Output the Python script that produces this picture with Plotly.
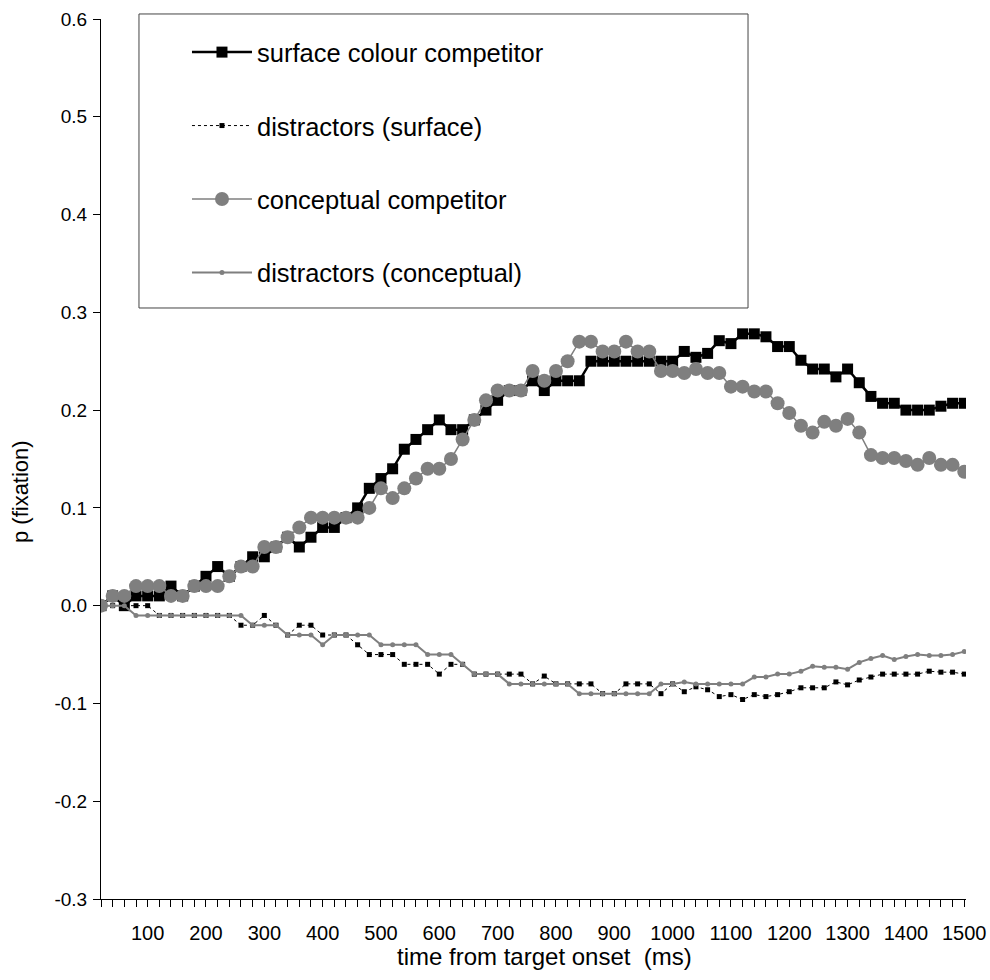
import plotly.graph_objects as go

# time bins (ms) - category positions
time_ms = [20, 40, 60, 80, 100, 120, 140, 160, 180, 200, 220, 240, 260, 280, 300,
           320, 340, 360, 380, 400, 420, 440, 460, 480, 500, 520, 540, 560, 580, 600,
           620, 640, 660, 680, 700, 720, 740, 760, 780, 800, 820, 840, 860, 880, 900,
           920, 940, 960, 980, 1000, 1020, 1040, 1060, 1080, 1100, 1120, 1140, 1160, 1180, 1200,
           1220, 1240, 1260, 1280, 1300, 1320, 1340, 1360, 1380, 1400, 1420, 1440, 1460, 1480, 1500]

surface_competitor = [
    0.00, 0.01, 0.00, 0.01, 0.01, 0.01, 0.02, 0.01, 0.02, 0.03,
    0.04, 0.03, 0.04, 0.05, 0.05, 0.06, 0.07, 0.06, 0.07, 0.08,
    0.08, 0.09, 0.10, 0.12, 0.13, 0.14, 0.16, 0.17, 0.18, 0.19,
    0.18, 0.18, 0.19, 0.20, 0.21, 0.22, 0.22, 0.23, 0.22, 0.23,
    0.23, 0.23, 0.25, 0.25, 0.25, 0.25, 0.25, 0.25, 0.25, 0.25,
    0.26, 0.254, 0.258, 0.271, 0.268, 0.278, 0.278, 0.275, 0.265, 0.265,
    0.251, 0.242, 0.242, 0.234, 0.242, 0.228, 0.214, 0.207, 0.207, 0.200,
    0.200, 0.200, 0.204, 0.207, 0.207]

distractors_surface = [
    0.00, 0.00, 0.00, 0.00, 0.00, -0.01, -0.01, -0.01, -0.01, -0.01,
    -0.01, -0.01, -0.02, -0.02, -0.01, -0.02, -0.03, -0.02, -0.02, -0.03,
    -0.03, -0.03, -0.04, -0.05, -0.05, -0.05, -0.06, -0.06, -0.06, -0.07,
    -0.06, -0.06, -0.07, -0.07, -0.07, -0.07, -0.07, -0.08, -0.072, -0.08,
    -0.08, -0.08, -0.08, -0.09, -0.09, -0.08, -0.08, -0.08, -0.09, -0.08,
    -0.088, -0.083, -0.086, -0.093, -0.091, -0.096, -0.091, -0.093, -0.091, -0.088,
    -0.084, -0.084, -0.084, -0.078, -0.081, -0.076, -0.073, -0.070, -0.070, -0.070,
    -0.070, -0.067, -0.068, -0.068, -0.070]

conceptual_competitor = [
    0.00, 0.01, 0.01, 0.02, 0.02, 0.02, 0.01, 0.01, 0.02, 0.02,
    0.02, 0.03, 0.04, 0.04, 0.06, 0.06, 0.07, 0.08, 0.09, 0.09,
    0.09, 0.09, 0.09, 0.10, 0.12, 0.11, 0.12, 0.13, 0.14, 0.14,
    0.15, 0.17, 0.19, 0.21, 0.22, 0.22, 0.22, 0.24, 0.23, 0.24,
    0.25, 0.27, 0.27, 0.26, 0.26, 0.27, 0.26, 0.26, 0.24, 0.24,
    0.238, 0.242, 0.238, 0.238, 0.224, 0.224, 0.219, 0.219, 0.207, 0.197,
    0.184, 0.177, 0.188, 0.184, 0.191, 0.177, 0.154, 0.151, 0.151, 0.148,
    0.144, 0.151, 0.144, 0.144, 0.137]

distractors_conceptual = [
    0.00, 0.00, 0.00, -0.01, -0.01, -0.01, -0.01, -0.01, -0.01, -0.01,
    -0.01, -0.01, -0.01, -0.02, -0.02, -0.02, -0.03, -0.03, -0.03, -0.04,
    -0.03, -0.03, -0.03, -0.03, -0.04, -0.04, -0.04, -0.04, -0.05, -0.05,
    -0.05, -0.06, -0.07, -0.07, -0.07, -0.08, -0.08, -0.08, -0.08, -0.08,
    -0.08, -0.09, -0.09, -0.09, -0.09, -0.09, -0.09, -0.09, -0.08, -0.08,
    -0.078, -0.08, -0.08, -0.08, -0.08, -0.08, -0.073, -0.073, -0.070, -0.070,
    -0.067, -0.062, -0.063, -0.063, -0.065, -0.058, -0.054, -0.051, -0.055, -0.052,
    -0.050, -0.051, -0.051, -0.050, -0.047]

x_tick_vals = [100, 200, 300, 400, 500, 600, 700, 800, 900, 1000, 1100, 1200, 1300, 1400, 1500]
y_tick_vals = [-0.3, -0.2, -0.1, 0.0, 0.1, 0.2, 0.3, 0.4, 0.5, 0.6]
y_tick_text = ["-0.3", "-0.2", "-0.1", "0.0", "0.1", "0.2", "0.3", "0.4", "0.5", "0.6"]

GRAY = "#7f7f7f"
FONT = "Liberation Sans, Arial, sans-serif"

fig = go.Figure()
fig.add_trace(go.Scatter(
    x=time_ms, y=surface_competitor, name="surface colour competitor",
    mode="lines+markers", legendgroup="a",
    line=dict(color="black", width=2.5),
    marker=dict(symbol="square", size=11, color="black")))
fig.add_trace(go.Scatter(
    x=time_ms, y=distractors_surface, name="distractors (surface)",
    mode="lines+markers", legendgroup="b",
    line=dict(color="black", width=1, dash="dot"),
    marker=dict(symbol="square", size=5, color="black")))
fig.add_trace(go.Scatter(
    x=time_ms, y=conceptual_competitor, name="conceptual competitor",
    mode="lines+markers", legendgroup="c",
    line=dict(color=GRAY, width=1.5),
    marker=dict(symbol="circle", size=14, color=GRAY)))
fig.add_trace(go.Scatter(
    x=time_ms, y=distractors_conceptual, name="distractors (conceptual)",
    mode="lines+markers", legendgroup="d",
    line=dict(color=GRAY, width=2),
    marker=dict(symbol="circle", size=5, color=GRAY)))

fig.update_layout(
    width=990, height=980,
    margin=dict(l=101, r=24, t=19, b=81, autoexpand=False),
    paper_bgcolor="white", plot_bgcolor="white",
    font=dict(family=FONT, size=19, color="black"),
    showlegend=True,
    legend=dict(
        x=0.0994, y=0.9886, xanchor="left", yanchor="top",
        bgcolor="rgba(0,0,0,0)", borderwidth=0,
        font=dict(size=25.5, family=FONT),
        tracegroupgap=37.3, itemwidth=60, traceorder="grouped"),
    shapes=[dict(type="rect", xref="paper", yref="paper",
                 x0=0.0439, x1=0.748, y0=0.6716, y1=1.0057,
                 line=dict(color="#444444", width=1), fillcolor="rgba(0,0,0,0)", layer="below")],
    annotations=[
        dict(text="time from target onset\u00a0\u00a0(ms)", xref="paper", yref="paper",
             x=0.513, y=-0.0659, xanchor="center", yanchor="middle",
             showarrow=False, font=dict(size=24, family=FONT)),
        dict(text="p (fixation)", xref="paper", yref="paper",
             x=-0.0936, y=0.4625, xanchor="center", yanchor="middle", textangle=-90,
             showarrow=False, font=dict(size=22, family=FONT)),
    ],
)

fig.update_xaxes(
    range=[20, 1503], showgrid=False, zeroline=False, automargin=False,
    showline=True, linecolor="black", linewidth=1,
    tickmode="array", tickvals=x_tick_vals,
    ticks="outside", ticklen=7, tickcolor="black", tickwidth=1,
    minor=dict(ticks="outside", ticklen=7, tickcolor="black", dtick=20, tick0=0, showgrid=False),
    ticklabelstandoff=9, ticklabeloverflow="allow",
    tickfont=dict(size=20))
fig.update_yaxes(
    range=[-0.3, 0.6], showgrid=False, zeroline=False, automargin=False,
    showline=True, linecolor="black", linewidth=1,
    tickmode="array", tickvals=y_tick_vals, ticktext=y_tick_text,
    ticks="outside", ticklen=7, tickcolor="black", tickwidth=1,
    ticklabelstandoff=2, ticklabeloverflow="allow",
    tickfont=dict(size=19))

# remove the default 8px page margin so the 990x980 figure fills the window exactly
fig.write_html("out.html",
               config={"displayModeBar": False},
               post_script="document.body.style.margin='0';document.body.style.overflow='hidden';")
